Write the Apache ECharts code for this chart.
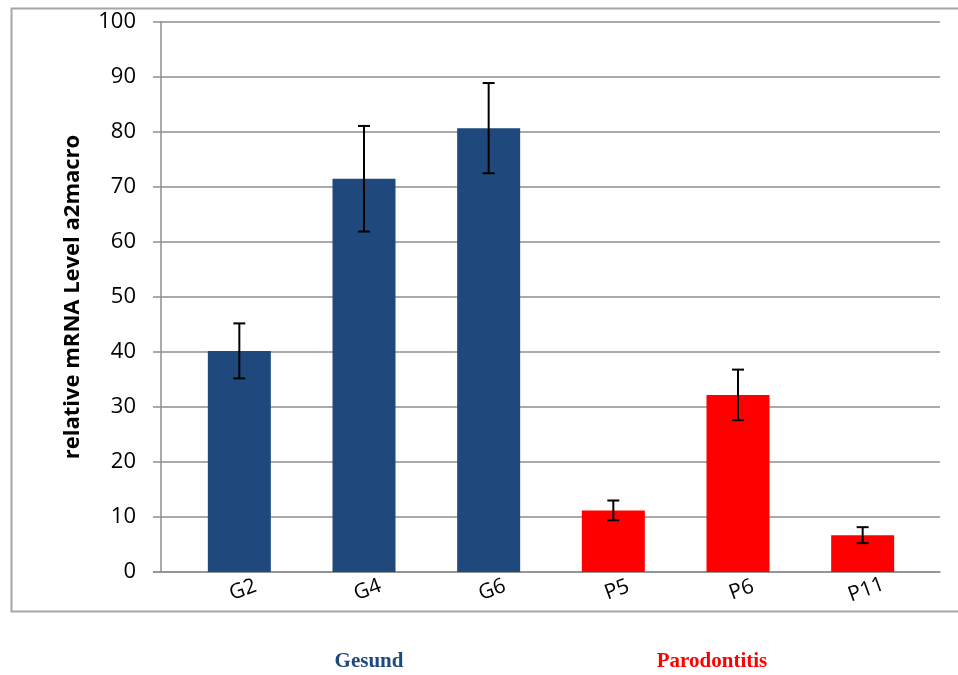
<!DOCTYPE html>
<html>
<head>
<meta charset="utf-8">
<script src="https://cdn.jsdelivr.net/npm/echarts@6/dist/echarts.min.js"></script>
<style>
html,body{margin:0;padding:0;background:#fff;}
#chart{width:958px;height:675px;}
</style>
</head>
<body>
<div id="chart"></div>
<script>
const categories = ['G2', 'G4', 'G6', 'P5', 'P6', 'P11'];
const values = [40.2, 71.5, 80.7, 11.2, 32.2, 6.7];
const errors = [5.0, 9.6, 8.2, 1.8, 4.6, 1.45];
const groupLabels = ['Gesund', 'Parodontitis'];
const yTicks = { min: 0, max: 100, interval: 10 };

const blue = '#1F497D';
const red = '#FF0000';
const barColors = ['#1F497D', '#1F497D', '#1F497D', '#FF0000', '#FF0000', '#FF0000'];

const chart = echarts.init(document.getElementById('chart'), null, { renderer: 'canvas' });

const errData = categories.map((c, i) => [i, values[i] - errors[i], values[i] + errors[i]]);

const option = {
  animation: false,
  backgroundColor: '#ffffff',
  grid: [
    { left: 161, right: 18, top: 22, bottom: 103 },
    { left: 177, right: 33, top: 22, bottom: 103 }
  ],
  xAxis: [
    {
      gridIndex: 0, type: 'value', min: 0, max: 1,
      axisLine: { show: true, lineStyle: { color: '#8e8e8e', width: 1.5 } },
      axisTick: { show: false }, axisLabel: { show: false }, splitLine: { show: false }
    },
    {
      gridIndex: 1, type: 'category', data: categories,
      axisLine: { show: false }, axisTick: { show: false },
      axisLabel: { rotate: 20, align: 'center', verticalAlign: 'top', fontSize: 21, color: '#000', fontFamily: 'Open Sans, sans-serif', margin: 8 }
    }
  ],
  yAxis: [
    {
      gridIndex: 0, type: 'value', min: yTicks.min, max: yTicks.max, interval: yTicks.interval,
      name: 'relative mRNA Level a2macro',
      nameLocation: 'middle', nameRotate: 90, nameGap: 77,
      nameTextStyle: { fontSize: 22, fontWeight: 'bold', color: '#000', fontFamily: 'Open Sans, sans-serif' },
      axisLine: { show: true, lineStyle: { color: '#8e8e8e', width: 1.5 } },
      axisTick: { show: true, length: 8, lineStyle: { color: '#8e8e8e', width: 1.5 } },
      axisLabel: { fontSize: 22, color: '#000', margin: 25, fontFamily: 'Open Sans, sans-serif' },
      splitLine: { show: true, lineStyle: { color: '#8e8e8e', width: 1.5 } }
    },
    {
      gridIndex: 1, type: 'value', min: yTicks.min, max: yTicks.max, show: false,
      splitLine: { show: false }
    }
  ],
  series: [
    {
      type: 'bar', xAxisIndex: 1, yAxisIndex: 1, barWidth: 63,
      data: values.map((v, i) => ({ value: v, itemStyle: { color: barColors[i] } }))
    },
    {
      type: 'custom', xAxisIndex: 1, yAxisIndex: 1, z: 10,
      data: errData,
      renderItem: function (params, api) {
        const x = api.value(0);
        const lo = api.coord([x, api.value(1)]);
        const hi = api.coord([x, api.value(2)]);
        const hw = 6;
        const style = { stroke: '#000', lineWidth: 2 };
        return {
          type: 'group',
          children: [
            { type: 'line', shape: { x1: lo[0], y1: lo[1], x2: hi[0], y2: hi[1] }, style: style },
            { type: 'line', shape: { x1: lo[0] - hw, y1: lo[1], x2: lo[0] + hw, y2: lo[1] }, style: style },
            { type: 'line', shape: { x1: hi[0] - hw, y1: hi[1], x2: hi[0] + hw, y2: hi[1] }, style: style }
          ]
        };
      }
    }
  ],
  graphic: [
    {
      type: 'rect', left: 9, top: 6, z: -1,
      shape: { width: 960, height: 603 },
      style: { fill: null, stroke: '#a6a6a6', lineWidth: 2 }
    },
    {
      type: 'line', z: 5,
      shape: { x1: 153, y1: 572, x2: 161, y2: 572 },
      style: { stroke: '#8e8e8e', lineWidth: 1.5 }
    },
    {
      type: 'text', x: 369, y: 662,
      style: { text: groupLabels[0], fill: blue, font: 'bold 21px "Liberation Serif", "Times New Roman", serif', textAlign: 'center', textVerticalAlign: 'middle' }
    },
    {
      type: 'text', x: 712, y: 662,
      style: { text: groupLabels[1], fill: red, font: 'bold 21px "Liberation Serif", "Times New Roman", serif', textAlign: 'center', textVerticalAlign: 'middle' }
    }
  ]
};

chart.setOption(option);
</script>
</body>
</html>
